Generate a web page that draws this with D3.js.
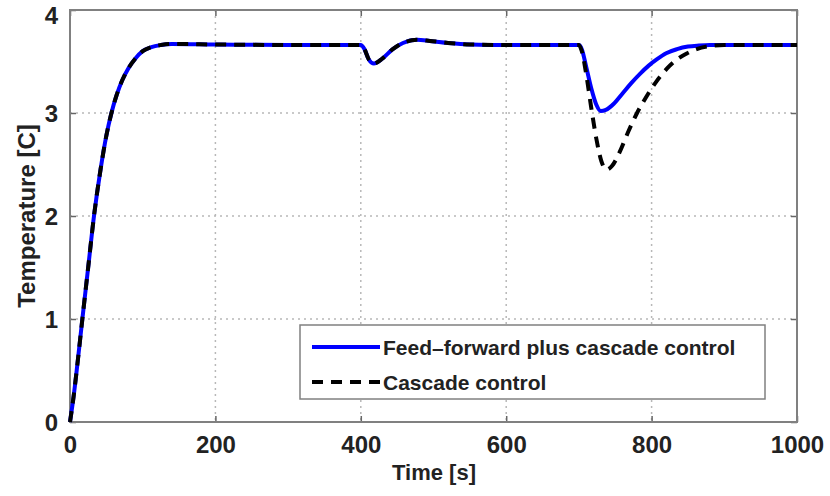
<!DOCTYPE html>
<html>
<head>
<meta charset="utf-8">
<script src="https://cdn.jsdelivr.net/npm/d3@7"></script>
<style>
body { margin: 0; background: #fff; }
text { font-family: "Liberation Sans", Arial, sans-serif; font-weight: bold; fill: #222; }
</style>
</head>
<body>
<div id="chart"></div>
<script>
// data
var xTicks = [0, 200, 400, 600, 800, 1000];
var yTicks = [0, 1, 2, 3, 4];

var commonT = [0, 5, 10, 17, 25, 33, 42, 50, 57, 64, 72, 80, 90, 100, 112, 125, 140, 200, 300, 400, 405, 411, 418, 430, 444, 458, 477, 495, 520, 550, 600, 700];
var commonV = [0, 0.25, 0.55, 1.0, 1.5, 2.0, 2.45, 2.78, 3.0, 3.17, 3.32, 3.43, 3.53, 3.6, 3.64, 3.66, 3.67, 3.665, 3.66, 3.66, 3.62, 3.52, 3.48, 3.53, 3.62, 3.68, 3.71, 3.7, 3.68, 3.665, 3.66, 3.66];

var ffT = [704, 710, 717, 724, 730, 737, 748, 760, 772, 784, 796, 807, 820, 835, 850, 865, 880, 1000];
var ffV = [3.62, 3.45, 3.24, 3.08, 3.02, 3.03, 3.09, 3.19, 3.29, 3.38, 3.46, 3.52, 3.58, 3.62, 3.645, 3.655, 3.66, 3.66];

var cascT = [704, 710, 717, 724, 731, 738, 746, 756, 768, 780, 793, 807, 821, 835, 849, 862, 876, 900, 1000];
var cascV = [3.6, 3.38, 3.05, 2.75, 2.53, 2.45, 2.49, 2.62, 2.82, 3.0, 3.16, 3.31, 3.43, 3.52, 3.58, 3.62, 3.645, 3.66, 3.66];

var seriesNames = ["Feed\u2013forward plus cascade control", "Cascade control"];

function pairs(t1, v1, t2, v2) {
    var out = [];
    for (var i = 0; i < t1.length; i++) out.push([t1[i], v1[i]]);
    for (var j = 0; j < t2.length; j++) out.push([t2[j], v2[j]]);
    return out;
}

var W = 830, H = 496;
var pL = 70, pR = 797, pT = 10, pB = 422; // plot box edges

var svg = d3.select("#chart")
    .append("svg")
    .attr("width", W)
    .attr("height", H);

var x = d3.scaleLinear().domain([0, 1000]).range([pL, pR]);
var y = d3.scaleLinear().domain([0, 4]).range([pB, pT]);

// grid
svg.append("g").selectAll("line")
    .data(xTicks.slice(1, -1))
    .enter().append("line")
    .attr("x1", function(d) { return x(d); })
    .attr("x2", function(d) { return x(d); })
    .attr("y1", pT).attr("y2", pB)
    .attr("stroke", "#b8b8b8").attr("stroke-width", 1.5)
    .attr("stroke-dasharray", "2,4");

svg.append("g").selectAll("line")
    .data(yTicks.slice(1, -1))
    .enter().append("line")
    .attr("y1", function(d) { return y(d); })
    .attr("y2", function(d) { return y(d); })
    .attr("x1", pL).attr("x2", pR)
    .attr("stroke", "#b8b8b8").attr("stroke-width", 1.5)
    .attr("stroke-dasharray", "2,4");

// axes (ticks inward, both sides)
var axB = svg.append("g").attr("transform", "translate(0," + pB + ")")
    .call(d3.axisBottom(x).tickValues(xTicks).tickSize(-6).tickPadding(14).tickFormat(d3.format("d")));
var axT = svg.append("g").attr("transform", "translate(0," + pT + ")")
    .call(d3.axisTop(x).tickValues(xTicks).tickSize(-6).tickFormat(""));
var axL = svg.append("g").attr("transform", "translate(" + pL + ",0)")
    .call(d3.axisLeft(y).tickValues(yTicks).tickSize(-6).tickPadding(12).tickFormat(d3.format("d")));
var axR = svg.append("g").attr("transform", "translate(" + pR + ",0)")
    .call(d3.axisRight(y).tickValues(yTicks).tickSize(-6).tickFormat(""));

[axB, axT, axL, axR].forEach(function(a) {
    a.select(".domain").remove();
    a.selectAll(".tick line").attr("stroke", "#666").attr("stroke-width", 1.5);
});
axB.selectAll("text").style("font-size", "24px").attr("fill", "#222");
axL.selectAll("text").style("font-size", "24px").attr("fill", "#222")
    .attr("dy", function(d) { return d == 4 ? "0.55em" : "0.36em"; }); // top label sits a bit lower, as in the picture

// box
svg.append("rect")
    .attr("x", pL).attr("y", pT)
    .attr("width", pR - pL).attr("height", pB - pT)
    .attr("fill", "none").attr("stroke", "#808080").attr("stroke-width", 2);

// curves
var line = d3.line()
    .x(function(d) { return x(d[0]); })
    .y(function(d) { return y(d[1]); })
    .curve(d3.curveMonotoneX);

svg.append("path")
    .datum(pairs(commonT, commonV, ffT, ffV))
    .attr("d", line)
    .attr("fill", "none")
    .attr("stroke", "#0000ff")
    .attr("stroke-width", 4);

svg.append("path")
    .datum(pairs(commonT, commonV, cascT, cascV))
    .attr("d", line)
    .attr("fill", "none")
    .attr("stroke", "#000")
    .attr("stroke-width", 4)
    .attr("stroke-dasharray", "11,8");

// legend
var lg = svg.append("g");
lg.append("rect")
    .attr("x", 300).attr("y", 325)
    .attr("width", 465).attr("height", 74)
    .attr("fill", "#fff").attr("stroke", "#808080").attr("stroke-width", 1.5);

var rowsY = [347, 382];
lg.selectAll("line.key")
    .data(seriesNames)
    .enter().append("line")
    .attr("class", "key")
    .attr("x1", 312).attr("x2", 380)
    .attr("y1", function(d, i) { return rowsY[i]; })
    .attr("y2", function(d, i) { return rowsY[i]; })
    .attr("stroke", function(d, i) { return i == 0 ? "#0000ff" : "#000"; })
    .attr("stroke-width", 4)
    .attr("stroke-dasharray", function(d, i) { return i == 0 ? null : "11,8"; });

lg.selectAll("text")
    .data(seriesNames)
    .enter().append("text")
    .attr("x", 383)
    .attr("y", function(d, i) { return rowsY[i] + 8; })
    .style("font-size", "21px")
    .text(function(d) { return d; });

// axis titles
svg.append("text")
    .attr("x", 434).attr("y", 480)
    .attr("text-anchor", "middle")
    .style("font-size", "22px")
    .text("Time [s]");

svg.append("text")
    .attr("transform", "translate(35,216) rotate(-90)")
    .attr("text-anchor", "middle")
    .style("font-size", "24px")
    .text("Temperature [C]");
</script>
</body>
</html>
